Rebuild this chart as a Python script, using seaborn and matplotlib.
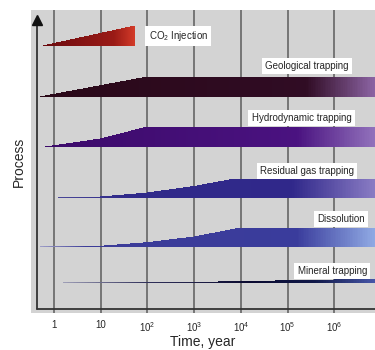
# CO2 storage: trapping processes over time (schematic)
import numpy as np
import matplotlib
matplotlib.use('Agg')
import matplotlib.pyplot as plt
import seaborn as sns
from matplotlib.colors import to_rgb

# --- data -------------------------------------------------------------
processes = ['CO$_2$ Injection', 'Geological trapping', 'Hydrodynamic trapping',
             'Residual gas trapping', 'Dissolution', 'Mineral trapping']
baselines = [26.7, 21.6, 16.6, 11.5, 6.6, 3.0]

# top edge of each band: (years, height above baseline)
co2_years = [0.58, 54]
co2_height = [0.0, 2.0]
geo_years = [0.5, 100, 1e7]
geo_height = [0.0, 2.0, 2.0]
hydro_years = [0.65, 10, 100, 1e7]
hydro_height = [0.0, 0.8, 2.0, 2.0]
resid_years = [1.2, 10, 100, 1000, 7500, 1e7]
resid_height = [0.0, 0.1, 0.5, 1.15, 1.9, 1.9]
diss_years = [0.5, 10, 100, 1000, 10000, 1e7]
diss_height = [0.0, 0.07, 0.43, 1.0, 1.9, 1.9]
min_years = [1.5, 1000, 10000, 1e5, 1e6, 1e7]
min_height = [0.0, 0.05, 0.15, 0.22, 0.3, 0.38]

# colour stops along time axis
co2_colors = [(0.58, '#6a0a0e'), (20, '#9a1a16'), (54, '#d23a28')]
geo_colors = [(0.5, '#2a0818'), (10**5.4, '#300c24'), (10**6.87, '#8c64a4')]
hydro_colors = [(0.65, '#3c0a6a'), (10**5.2, '#4a1280'), (10**6.87, '#9272bc')]
resid_colors = [(1.2, '#4a4898'), (30, '#302a8a'), (10**5.1, '#30288a'), (10**6.87, '#8a7cc4')]
diss_colors = [(0.5, '#a0a0c8'), (5, '#3c3c98'), (10**5.2, '#3a3c9c'), (10**6.87, '#90aae4')]
min_colors = [(1.5, '#a0a0b8'), (100, '#30305a'), (10**4.2, '#0a0a30'), (10**5.6, '#101848'), (10**6.87, '#4656a8')]

bands = [(co2_years, co2_height, co2_colors),
         (geo_years, geo_height, geo_colors),
         (hydro_years, hydro_height, hydro_colors),
         (resid_years, resid_height, resid_colors),
         (diss_years, diss_height, diss_colors),
         (min_years, min_height, min_colors)]

tick_years = [1, 10, 1e2, 1e3, 1e4, 1e5, 1e6]
tick_labels = ['1', '10', '$10^2$', '$10^3$', '$10^4$', '$10^5$', '$10^6$']

# --- style -------------------------------------------------------------
sns.set_theme(style='white')
plt.rcParams['font.family'] = ['Liberation Sans', 'DejaVu Sans']
plt.rcParams['mathtext.fontset'] = 'custom'
plt.rcParams['mathtext.rm'] = 'Liberation Sans'
plt.rcParams['mathtext.it'] = 'Liberation Sans:italic'

fig = plt.figure(figsize=(3.75, 3.5), dpi=100)
ax = fig.add_axes([31/375, 1 - 313/350, 1 - 31/375, 303/350])
ax.set_facecolor('#d3d3d3')
ax.set_xscale('log')
xmin, xmax = 10**-0.49, 10**6.87
ax.set_xlim(xmin, xmax)
ax.set_ylim(0, 30.3)


def stop_color(x, stops):
    lx = np.log10([s[0] for s in stops])
    rgb = np.array([to_rgb(s[1]) for s in stops])
    return [np.interp(np.log10(x), lx, rgb[:, k]) for k in range(3)]


for (yrs, hts, cols), base in zip(bands, baselines):
    x = np.geomspace(yrs[0], min(yrs[-1], xmax * 1.01), 200)
    top = np.interp(np.log10(x), np.log10(yrs), hts)
    # gradient: thin strips without antialiasing so no seams show
    for i in range(len(x) - 1):
        c = stop_color(np.sqrt(x[i] * x[i + 1]), cols)
        ax.fill_between(x[i:i + 2], base, base + top[i:i + 2],
                        facecolor=c, edgecolor='none', lw=0,
                        antialiased=False, zorder=3)

# grid lines and axes with arrow
ax.set_xticks(tick_years)
ax.set_xticklabels(tick_labels, fontsize=7)
ax.minorticks_off()
ax.set_yticks([])
ax.grid(axis='x', color='#6e6e6e', lw=1.3, zorder=1)
ax.set_axisbelow(True)
ax.tick_params(axis='x', length=0, pad=5)
sns.despine(ax=ax, left=True, bottom=True)

x_axis = 10**-0.364
ax.plot([x_axis, xmax], [0.4, 0.4], color='#333333', lw=1.3, zorder=2, clip_on=False)
ax.plot([x_axis, x_axis], [0.4, 29.0], color='#333333', lw=1.3, zorder=2)
ax.plot([x_axis], [29.3], marker='^', color='#111111', ms=7, zorder=4, clip_on=False)

# labels
label_pos = [(460, 27.7), (2.6e5, 24.7), (2.0e5, 19.5), (2.6e5, 14.2), (1.4e6, 9.4), (9.0e5, 4.2)]
for name, (lx, ly) in zip(processes, label_pos):
    ax.text(lx, ly, name, fontsize=7, ha='center', va='center', zorder=5,
            bbox=dict(boxstyle='square,pad=0.35', fc='white', ec='none'))

ax.set_xlabel('Time, year', fontsize=10, labelpad=1)
ax.set_ylabel('Process', fontsize=10, labelpad=4)

fig.savefig('out.png', dpi=100)
